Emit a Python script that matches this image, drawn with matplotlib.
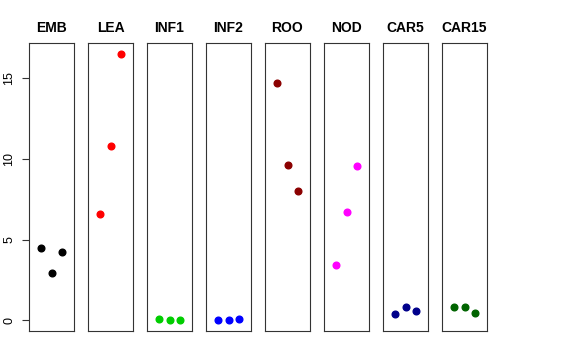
import matplotlib
matplotlib.use("Agg")
import matplotlib.pyplot as plt

names = ["EMB", "LEA", "INF1", "INF2", "ROO", "NOD", "CAR5", "CAR15"]
colors = ["black", "#FF0000", "#00CD00", "#0000FF", "#8B0000", "#FF00FF", "#00008B", "#006400"]
emb = [4.5, 2.95, 4.2]
lea = [6.55, 10.8, 16.5]
inf1 = [0.1, 0.02, 0.0]
inf2 = [0.01, 0.03, 0.09]
roo = [14.7, 9.6, 8.0]
nod = [3.4, 6.7, 9.55]
car5 = [0.42, 0.85, 0.6]
car15 = [0.82, 0.85, 0.48]
series = [emb, lea, inf1, inf2, roo, nod, car5, car15]
xs = [1, 2, 3]

fig = plt.figure(figsize=(5.76, 3.6), dpi=100)
W, H = 576.0, 360.0
for i, (name, col, vals) in enumerate(zip(names, colors, series)):
    left = 29 + i * 59
    ax = fig.add_axes([left / W, 1 - 331 / H, 45 / W, 288 / H])
    ax.plot(xs, vals, "o", color=col, ms=4.8, mec=col)
    ax.set_xlim(-0.16, 4.16)
    ax.set_ylim(-0.66, 17.16)
    ax.set_xticks([])
    for s in ax.spines.values():
        s.set_linewidth(0.8)
        s.set_color("#333333")
    ax.set_title(name, fontsize=10, fontweight="bold", pad=8, family="Liberation Sans")
    if i == 0:
        ax.set_yticks([0, 5, 10, 15])
        ax.set_yticklabels(["0", "5", "10", "15"], rotation=90, va="center",
                           fontsize=9, family="Liberation Sans")
        ax.tick_params(axis="y", length=5, width=0.8, pad=5, color="#333333")
    else:
        ax.set_yticks([])

fig.savefig("out.png", dpi=100)
